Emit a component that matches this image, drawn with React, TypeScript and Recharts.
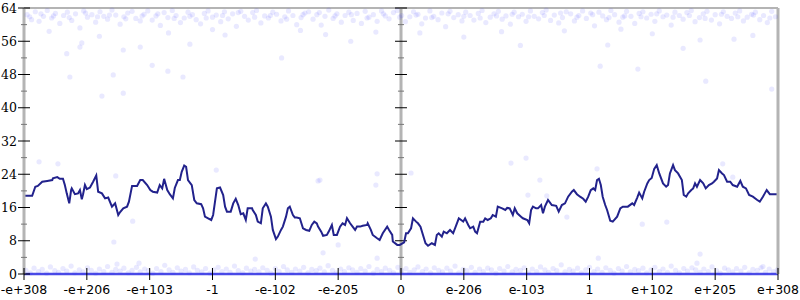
import { ComposedChart, Line, Scatter, XAxis, YAxis, ReferenceLine } from "recharts";

// x runs 0..1200 across the plot (tick every 100), y is 0..64
const xTicks = [0, 100, 200, 300, 400, 500, 600, 700, 800, 900, 1000, 1100, 1200];
const xLabels = ["-e+308", "-e+206", "-e+103", "-1", "-e-102", "-e-205", "0", "e-206", "e-103", "1", "e+102", "e+205", "e+308"];
const yTicks = [0, 4, 8, 12, 16, 20, 24, 28, 32, 36, 40, 44, 48, 52, 56, 60, 64];

// running average line
const avgLine: [number, number][] = [
  [0, 18.8], [13, 18.8], [18, 21.0], [22, 21.2], [29, 22.2], [37, 22.4], [45, 22.6], [46, 23.0], [53, 23.3], [57, 22.9],
  [62, 22.9], [65, 21.4], [68, 19.4], [72, 17.0], [75, 20.2], [76, 20.6], [81, 19.2], [86, 19.4], [89, 20.2], [92, 18.0],
  [94, 19.2], [97, 21.4], [100, 20.4], [105, 20.8], [110, 22.2], [115, 23.7], [118, 19.8], [124, 19.4], [129, 18.2], [134, 18.4],
  [140, 16.2], [145, 17.0], [150, 14.2], [153, 14.9], [158, 15.8], [164, 16.2], [167, 17.4], [172, 21.2], [180, 21.2], [185, 22.6],
  [189, 22.6], [196, 21.4], [201, 20.2], [205, 19.8], [212, 19.6], [216, 21.4], [220, 20.6], [223, 22.9], [228, 20.2], [232, 19.2],
  [237, 18.2], [240, 20.7], [245, 22.6], [248, 22.6], [251, 24.6], [255, 26.1], [258, 25.8], [261, 22.6], [267, 21.4], [271, 17.8],
  [275, 17.0], [282, 16.8], [285, 15.8], [288, 13.8], [293, 13.4], [298, 13.0], [301, 14.2], [304, 17.4], [307, 20.6], [312, 20.8],
  [317, 19.0], [320, 16.2], [323, 15.0], [329, 15.0], [333, 17.0], [337, 18.1], [341, 16.6], [345, 14.4], [349, 14.6], [353, 13.0],
  [356, 15.8], [363, 15.8], [364, 15.4], [369, 14.2], [372, 12.6], [377, 12.2], [380, 15.8], [385, 17.0], [388, 16.2], [393, 13.8],
  [396, 10.6], [401, 8.4], [404, 9.0], [409, 10.6], [412, 11.4], [417, 13.8], [420, 15.8], [423, 16.2], [428, 14.2], [431, 13.6],
  [434, 13.6], [439, 13.4], [444, 11.0], [449, 10.6], [454, 10.4], [458, 11.8], [462, 12.6], [466, 12.2], [468, 11.4], [473, 10.2],
  [476, 9.2], [482, 9.4], [485, 10.2], [490, 11.8], [493, 9.4], [498, 9.4], [503, 11.4], [507, 12.2], [511, 11.8], [514, 13.4],
  [519, 12.2], [523, 11.4], [527, 10.6], [530, 11.4], [535, 11.4], [539, 11.6], [546, 11.8], [547, 12.2], [552, 10.6], [555, 9.4],
  [562, 8.6], [566, 8.2], [571, 9.8], [578, 11.4], [581, 10.6], [586, 9.4], [587, 7.8], [594, 7.0], [598, 7.0], [605, 7.6],
  [608, 9.8], [611, 9.8], [616, 11.0], [619, 13.4], [624, 12.6], [627, 12.2], [631, 11.4], [635, 9.4], [639, 7.4], [643, 6.8],
  [649, 7.4], [654, 7.0], [657, 9.4], [660, 9.8], [665, 9.0], [668, 10.2], [673, 9.8], [678, 10.6], [683, 9.8], [689, 12.2],
  [692, 13.4], [699, 12.6], [702, 13.4], [707, 11.8], [710, 11.0], [715, 11.4], [718, 10.2], [721, 9.8], [726, 12.6], [731, 12.6],
  [734, 13.4], [738, 13.0], [743, 13.4], [746, 14.2], [751, 13.8], [754, 16.2], [761, 15.8], [766, 15.4], [769, 15.9], [773, 15.8],
  [778, 14.2], [781, 15.8], [785, 14.6], [791, 13.8], [794, 13.4], [801, 13.0], [804, 12.2], [807, 15.4], [810, 16.2], [815, 15.8],
  [818, 15.8], [823, 16.6], [826, 14.6], [829, 16.2], [834, 17.8], [840, 16.6], [847, 16.4], [851, 15.0], [856, 16.6], [861, 17.0],
  [866, 18.6], [872, 19.8], [875, 20.2], [880, 19.2], [885, 18.6], [890, 18.1], [894, 17.4], [898, 18.6], [902, 20.2], [906, 20.6],
  [909, 20.2], [912, 22.6], [915, 22.9], [918, 21.4], [921, 18.6], [925, 16.6], [928, 15.4], [933, 12.8], [937, 12.6], [944, 13.8],
  [949, 15.8], [953, 16.2], [958, 16.2], [961, 16.2], [968, 17.0], [971, 16.6], [976, 18.4], [979, 19.6], [984, 18.2], [987, 19.8],
  [992, 21.8], [995, 22.6], [999, 23.1], [1003, 25.3], [1007, 26.2], [1011, 24.2], [1017, 21.8], [1022, 21.0], [1025, 21.4], [1028, 24.2],
  [1033, 26.2], [1036, 25.0], [1041, 24.2], [1047, 22.6], [1050, 19.0], [1054, 18.6], [1057, 19.4], [1062, 20.2], [1065, 20.6], [1068, 21.8],
  [1071, 21.0], [1076, 22.6], [1081, 21.8], [1085, 20.6], [1090, 21.4], [1095, 21.8], [1098, 22.2], [1103, 23.0], [1106, 25.0], [1111, 24.2],
  [1114, 23.8], [1119, 22.2], [1124, 22.2], [1128, 21.4], [1135, 21.0], [1140, 22.4], [1144, 21.0], [1149, 20.6], [1154, 19.0], [1160, 18.6],
  [1167, 17.8], [1171, 17.4], [1176, 18.6], [1179, 19.4], [1182, 20.2], [1187, 19.2], [1192, 19.2], [1200, 19.2],
];

// samples near the top
const upperDots: [number, number][] = [
  [5, 62.4], [12, 61.2], [18, 63.1], [24, 60.8], [31, 62.0], [37, 63.4], [44, 61.6], [50, 62.7], [57, 60.3], [63, 62.2],
  [69, 63.0], [76, 61.0], [82, 62.6], [89, 59.2], [95, 63.3], [101, 61.8], [108, 62.4], [114, 60.6], [121, 63.1], [127, 62.0],
  [133, 61.3], [140, 63.5], [146, 62.3], [153, 60.1], [159, 61.9], [165, 62.8], [172, 63.2], [178, 61.5], [185, 60.9], [191, 62.5],
  [197, 63.3], [204, 61.1], [210, 62.1], [217, 59.8], [223, 62.9], [229, 61.7], [236, 63.4], [242, 62.2], [249, 60.5], [255, 61.6],
  [261, 63.0], [268, 62.4], [274, 61.2], [281, 60.2], [287, 62.7], [293, 63.3], [300, 61.8], [306, 62.3], [313, 60.7], [319, 63.1],
  [325, 61.4], [332, 62.6], [338, 59.6], [345, 63.2], [351, 62.0], [357, 61.1], [364, 62.9], [370, 63.4], [377, 60.4], [383, 62.1],
  [389, 61.6], [396, 63.0], [402, 62.5], [409, 60.9], [415, 61.9], [421, 63.3], [428, 62.2], [434, 60.0], [441, 61.7], [447, 62.8],
  [453, 63.1], [460, 61.3], [466, 62.4], [473, 59.9], [479, 62.0], [485, 63.5], [492, 61.5], [498, 62.6], [505, 60.6], [511, 62.2],
  [517, 63.0], [524, 61.0], [530, 62.7], [537, 60.3], [543, 63.2], [549, 61.8], [556, 62.4], [562, 60.8], [569, 63.3], [575, 62.1],
  [581, 61.4], [588, 62.9], [594, 63.4], [601, 62.2], [607, 60.7], [614, 61.9], [620, 63.1], [627, 62.5], [633, 60.2], [639, 61.6],
  [646, 63.3], [652, 62.0], [659, 61.2], [665, 62.8], [671, 59.5], [678, 63.2], [684, 61.7], [691, 62.4], [697, 60.9], [703, 63.0],
  [710, 62.2], [716, 61.1], [723, 62.7], [729, 63.4], [735, 60.5], [742, 61.8], [748, 62.6], [755, 63.2], [761, 61.3], [767, 62.1],
  [774, 60.1], [780, 63.0], [787, 61.9], [793, 62.5], [799, 60.8], [806, 63.3], [812, 62.0], [819, 61.4], [825, 62.9], [831, 63.5],
  [838, 61.0], [844, 62.3], [851, 60.4], [857, 61.7], [863, 63.1], [870, 62.6], [876, 60.9], [883, 62.2], [889, 63.3], [895, 61.5],
  [902, 62.8], [908, 59.7], [915, 63.0], [921, 62.1], [927, 61.2], [934, 63.4], [940, 62.4], [947, 60.6], [953, 61.8], [959, 63.2],
  [966, 62.0], [972, 60.3], [979, 62.7], [985, 63.1], [991, 61.6], [998, 62.5], [1004, 60.8], [1011, 63.3], [1017, 61.9], [1023, 62.3],
  [1030, 59.9], [1036, 63.0], [1043, 62.2], [1049, 61.3], [1055, 62.9], [1062, 63.4], [1068, 60.7], [1075, 61.7], [1081, 62.6], [1087, 63.2],
  [1094, 61.1], [1100, 62.4], [1107, 60.2], [1113, 63.1], [1119, 62.0], [1126, 61.5], [1132, 62.8], [1139, 63.3], [1145, 60.9], [1151, 61.8],
  [1158, 62.5], [1164, 63.0], [1171, 61.2], [1177, 62.2], [1183, 60.5], [1190, 63.2], [1196, 61.9],
  [9, 61.9], [27, 62.6], [47, 62.1], [72, 61.7], [98, 62.8], [117, 61.9], [136, 62.3], [162, 61.4], [188, 62.1], [213, 62.6],
  [239, 61.5], [264, 62.0], [290, 61.6], [316, 62.2], [341, 62.9], [367, 61.8], [392, 62.2], [418, 61.3], [444, 62.4], [470, 62.9],
  [495, 62.1], [521, 62.4], [546, 61.6], [572, 62.6], [598, 61.8], [624, 62.3], [649, 61.7], [675, 62.6], [700, 62.0], [726, 61.6],
  [752, 62.1], [777, 62.5], [803, 61.9], [828, 62.2], [854, 62.8], [880, 61.8], [905, 62.4], [931, 61.7], [956, 62.1], [982, 61.9],
  [1007, 62.6], [1033, 61.8], [1059, 62.2], [1084, 61.5], [1110, 62.5], [1136, 61.9], [1161, 62.3], [1187, 61.6],
  [68, 53.0], [73, 47.4], [92, 55.6], [89, 54.6], [142, 47.9], [124, 42.8], [158, 53.9], [158, 43.5], [204, 50.2], [229, 48.8],
  [253, 47.4], [264, 55.3], [185, 54.6], [929, 55.1], [1049, 54.3], [977, 49.3], [1085, 46.4], [917, 50.0], [1190, 44.5], [1076, 56.3],
  [320, 57.5], [410, 52.0], [520, 56.0], [560, 58.2], [700, 57.0], [790, 55.0], [860, 58.5], [1000, 57.8], [1130, 56.5], [440, 58.6],
  [300, 58.8], [630, 58.0], [40, 58.4], [120, 57.2], [230, 58.0], [480, 57.6], [760, 58.3], [950, 58.9], [1160, 57.4],
];

// stray samples in the middle
const midDots: [number, number][] = [
  [24, 27.0], [54, 26.5], [146, 23.6], [173, 12.7], [143, 7.7], [148, 2.4], [183, 2.6], [368, 3.6], [500, 7.0], [476, 5.1],
  [562, 3.8], [914, 3.8], [1076, 4.8], [1071, 2.6], [306, 25.0], [468, 22.4], [560, 21.4], [562, 24.1], [616, 24.3], [471, 22.6],
  [775, 26.7], [799, 27.9], [821, 22.6], [802, 19.0], [832, 18.8], [864, 13.7], [912, 25.3], [984, 12.0], [1023, 12.5], [1112, 26.5],
  [1128, 23.3], [1176, 1.8],
];

// samples near zero
const lowerDots: [number, number][] = [
  [3, 0.9], [10, 0.3], [16, 1.4], [23, 0.6], [29, 1.1], [36, 0.2], [42, 1.7], [49, 0.8], [55, 0.4], [62, 1.3],
  [68, 0.7], [75, 1.9], [81, 0.3], [88, 1.0], [94, 0.5], [101, 1.5], [107, 0.9], [114, 0.2], [120, 1.2], [127, 0.6],
  [133, 1.8], [140, 0.4], [146, 1.1], [153, 0.7], [159, 1.4], [166, 0.3], [172, 0.9], [179, 1.6], [185, 0.5], [192, 1.2],
  [198, 0.8], [205, 0.2], [211, 1.3], [218, 0.6], [224, 2.1], [231, 1.0], [237, 0.4], [244, 1.5], [250, 0.7], [257, 1.1],
  [263, 0.3], [270, 1.7], [276, 0.9], [283, 0.5], [289, 1.3], [296, 0.2], [302, 1.0], [309, 1.6], [315, 0.6], [322, 1.2],
  [328, 0.4], [335, 1.9], [341, 0.8], [348, 0.3], [354, 1.4], [361, 0.7], [367, 1.1], [374, 0.5], [380, 1.5], [387, 0.9],
  [393, 0.2], [400, 1.3], [406, 0.6], [413, 1.8], [419, 1.0], [426, 0.4], [432, 1.2], [439, 0.7], [445, 1.6], [452, 0.3],
  [458, 1.1], [465, 0.8], [471, 1.4], [478, 0.5], [484, 2.0], [491, 0.9], [497, 0.3], [504, 1.2], [510, 0.6], [517, 1.5],
  [523, 1.0], [530, 0.4], [536, 1.3], [543, 0.7], [549, 1.8], [556, 0.2], [562, 1.1], [569, 0.6], [575, 1.4], [582, 0.9],
  [588, 0.3], [595, 1.6], [601, 0.8], [608, 1.3], [614, 0.4], [621, 1.0], [627, 1.7], [634, 0.6], [640, 1.2], [647, 0.3],
  [653, 1.5], [660, 0.9], [666, 0.5], [673, 1.4], [679, 0.7], [686, 1.9], [692, 0.3], [699, 1.1], [705, 0.8], [712, 1.6],
  [718, 0.4], [725, 1.2], [731, 0.6], [738, 1.4], [744, 1.0], [751, 0.2], [757, 1.3], [764, 0.7], [770, 1.8], [777, 0.5],
  [783, 1.1], [790, 0.9], [796, 1.5], [803, 0.3], [809, 1.2], [816, 0.6], [822, 1.7], [829, 1.0], [835, 0.4], [842, 1.3],
  [848, 0.8], [855, 2.2], [861, 0.5], [868, 1.1], [874, 0.7], [881, 1.4], [887, 0.3], [894, 1.0], [900, 1.6], [907, 0.6],
  [913, 1.2], [920, 0.4], [926, 1.5], [933, 0.9], [939, 0.2], [946, 1.3], [952, 0.7], [959, 1.8], [965, 0.5], [972, 1.1],
  [978, 0.8], [985, 1.4], [991, 0.3], [998, 1.0], [1004, 1.6], [1011, 0.6], [1017, 1.2], [1024, 0.4], [1030, 1.9], [1037, 0.9],
  [1043, 0.3], [1050, 1.3], [1056, 0.7], [1063, 1.5], [1069, 1.0], [1076, 0.4], [1082, 1.2], [1089, 0.6], [1095, 1.7], [1102, 0.8],
  [1108, 0.2], [1115, 1.4], [1121, 1.0], [1128, 0.5], [1134, 1.3], [1141, 0.7], [1147, 1.6], [1154, 0.3], [1160, 1.1], [1167, 0.9],
  [1173, 1.5], [1180, 0.4], [1186, 1.2], [1193, 0.6], [1199, 1.0],
];

const toPoints = (arr: [number, number][]) => arr.map(([x, y]) => ({ x, y }));

const AXIS_GRAY = "#b4b4b4";
const CENTER = 600;

const Dot = (props: any) => (
  <circle cx={props.cx} cy={props.cy} r={2.6} fill="#3a3aff" fillOpacity={0.11} />
);

const YTick = (props: any) => {
  const { x, y, payload, showLabel } = props;
  const major = payload.value % 8 === 0;
  const h = major ? 6 : 3;
  return (
    <g>
      <line x1={x - h} x2={x + h} y1={y} y2={y} stroke={major ? "#000" : "#777"} strokeWidth={1} />
      {showLabel && major && (
        <text x={x - 7} y={y} dy="0.36em" textAnchor="end" fontFamily="DejaVu Serif" fontSize={12.5} fill="#000">
          {payload.value}
        </text>
      )}
    </g>
  );
};

const XTick = (props: any) => {
  const { x, y, payload, index } = props;
  return (
    <g>
      <line x1={x} x2={x} y1={y - 6} y2={y + 6} stroke="#000" strokeWidth={1} />
      <text x={x} y={y + 20} textAnchor="middle" fontFamily="DejaVu Sans" fontSize={12.5} fill="#000">
        {xLabels[index] ?? payload.value}
      </text>
    </g>
  );
};

export default function App() {
  return (
    <div style={{ position: "absolute", left: 0, top: 0, width: 800, height: 300, background: "#fff" }}>
      <ComposedChart width={800} height={300} margin={{ top: 8, right: 21, bottom: 0, left: 23 }}>
        <XAxis
          type="number"
          dataKey="x"
          domain={[0, 1200]}
          ticks={xTicks}
          interval={0}
          height={26}
          tickSize={0}
          tickMargin={0}
          tickLine={false}
          axisLine={{ stroke: "#4a4ae6", strokeWidth: 2.5 }}
          tick={(p: any) => <XTick {...p} />}
          allowDataOverflow
        />
        <YAxis
          yAxisId="l"
          type="number"
          domain={[0, 64]}
          ticks={yTicks}
          interval={0}
          width={1}
          tickSize={0}
          tickMargin={0}
          tickLine={false}
          axisLine={{ stroke: AXIS_GRAY, strokeWidth: 3 }}
          tick={(p: any) => <YTick {...p} showLabel />}
        />
        <YAxis
          yAxisId="r"
          orientation="right"
          type="number"
          domain={[0, 64]}
          ticks={yTicks}
          interval={0}
          width={1}
          tickSize={0}
          tickMargin={0}
          tickLine={false}
          axisLine={{ stroke: AXIS_GRAY, strokeWidth: 3 }}
          tick={(p: any) => <YTick {...p} />}
        />
        <ReferenceLine yAxisId="l" y={64} stroke={AXIS_GRAY} strokeWidth={2} />
        <ReferenceLine yAxisId="l" x={CENTER} stroke={AXIS_GRAY} strokeWidth={3} />
        {yTicks.map((v) => {
          const d = v % 8 === 0 ? 9.5 : 4.8;
          return (
            <ReferenceLine
              key={v}
              yAxisId="l"
              segment={[{ x: CENTER - d, y: v }, { x: CENTER + d, y: v }]}
              stroke={v % 8 === 0 ? "#000" : "#777"}
              strokeWidth={1}
            />
          );
        })}
        <Scatter yAxisId="l" data={toPoints(upperDots)} dataKey="y" shape={Dot} isAnimationActive={false} />
        <Scatter yAxisId="l" data={toPoints(midDots)} dataKey="y" shape={Dot} isAnimationActive={false} />
        <Scatter yAxisId="l" data={toPoints(lowerDots)} dataKey="y" shape={Dot} isAnimationActive={false} />
        <Line
          yAxisId="l"
          data={toPoints(avgLine)}
          dataKey="y"
          type="linear"
          stroke="#22228c"
          strokeWidth={2}
          dot={false}
          isAnimationActive={false}
        />
      </ComposedChart>
    </div>
  );
}
